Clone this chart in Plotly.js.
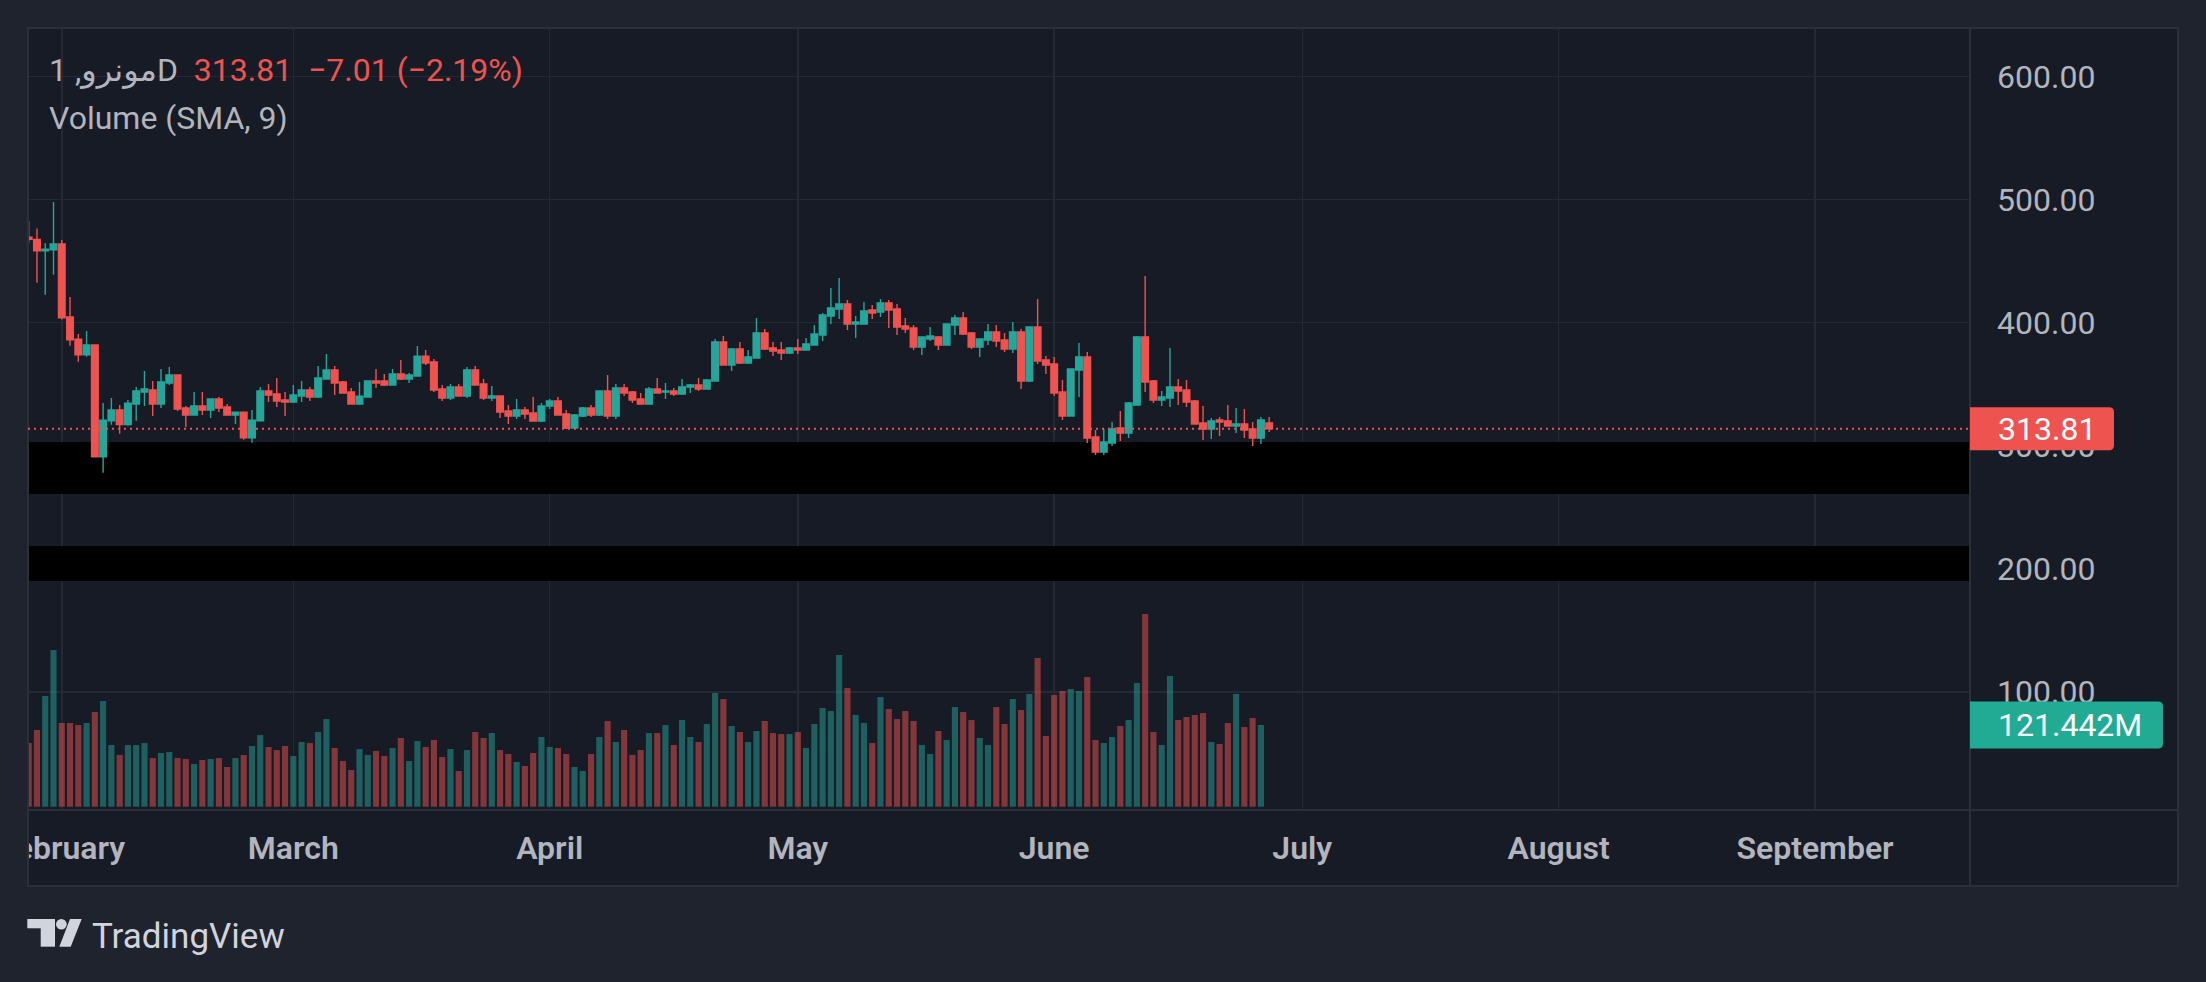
<!DOCTYPE html>
<html>
<head>
<meta charset="utf-8">
<script src="https://cdn.plot.ly/plotly-3.0.1.min.js"></script>
<style>
html,body{margin:0;padding:0;background:#1f232e;overflow:hidden;}
#chart{width:2206px;height:982px;}
</style>
</head>
<body>
<div id="chart"></div>
<script>
// ---------------- DATA ----------------
const dates = [
'2023-01-28','2023-01-29','2023-01-30','2023-01-31',
'2023-02-01','2023-02-02','2023-02-03','2023-02-04','2023-02-05','2023-02-06','2023-02-07','2023-02-08','2023-02-09','2023-02-10',
'2023-02-11','2023-02-12','2023-02-13','2023-02-14','2023-02-15','2023-02-16','2023-02-17','2023-02-18','2023-02-19','2023-02-20',
'2023-02-21','2023-02-22','2023-02-23','2023-02-24','2023-02-25','2023-02-26','2023-02-27','2023-02-28',
'2023-03-01','2023-03-02','2023-03-03','2023-03-04','2023-03-05','2023-03-06','2023-03-07','2023-03-08','2023-03-09','2023-03-10',
'2023-03-11','2023-03-12','2023-03-13','2023-03-14','2023-03-15','2023-03-16','2023-03-17','2023-03-18','2023-03-19','2023-03-20',
'2023-03-21','2023-03-22','2023-03-23','2023-03-24','2023-03-25','2023-03-26','2023-03-27','2023-03-28','2023-03-29','2023-03-30','2023-03-31',
'2023-04-01','2023-04-02','2023-04-03','2023-04-04','2023-04-05','2023-04-06','2023-04-07','2023-04-08','2023-04-09','2023-04-10',
'2023-04-11','2023-04-12','2023-04-13','2023-04-14','2023-04-15','2023-04-16','2023-04-17','2023-04-18','2023-04-19','2023-04-20',
'2023-04-21','2023-04-22','2023-04-23','2023-04-24','2023-04-25','2023-04-26','2023-04-27','2023-04-28','2023-04-29','2023-04-30',
'2023-05-01','2023-05-02','2023-05-03','2023-05-04','2023-05-05','2023-05-06','2023-05-07','2023-05-08','2023-05-09','2023-05-10',
'2023-05-11','2023-05-12','2023-05-13','2023-05-14','2023-05-15','2023-05-16','2023-05-17','2023-05-18','2023-05-19','2023-05-20',
'2023-05-21','2023-05-22','2023-05-23','2023-05-24','2023-05-25','2023-05-26','2023-05-27','2023-05-28','2023-05-29','2023-05-30','2023-05-31',
'2023-06-01','2023-06-02','2023-06-03','2023-06-04','2023-06-05','2023-06-06','2023-06-07','2023-06-08','2023-06-09','2023-06-10',
'2023-06-11','2023-06-12','2023-06-13','2023-06-14','2023-06-15','2023-06-16','2023-06-17','2023-06-18','2023-06-19','2023-06-20',
'2023-06-21','2023-06-22','2023-06-23','2023-06-24','2023-06-25','2023-06-26','2023-06-27'
];

const open = [
469.3,467.6,458.4,459.2,463.8,404.5,386.6,373.9,381.8,291.0,
320.3,329.0,317.1,333.8,343.6,345.2,333.8,350.9,357.4,330.6,
324.9,332.2,329.0,337.9,331.4,324.9,327.3,306.5,320.3,344.4,
342.0,337.1,335.5,340.3,345.2,339.5,354.1,361.5,351.7,343.6,
333.8,339.5,352.5,352.5,349.3,358.2,354.1,356.6,372.8,368.0,
346.0,338.7,347.7,340.4,361.5,350.1,338.8,340.4,328.2,324.1,
329.0,326.6,320.1,332.3,336.3,325.7,314.4,324.1,330.6,325.0,
344.4,324.1,346.9,343.6,337.9,333.9,346.1,343.6,344.4,342.0,
347.7,349.3,346.1,352.6,384.2,365.6,378.6,367.2,371.2,391.6,
379.4,377.7,375.3,379.4,377.7,381.8,389.9,405.4,411.1,415.1,
398.9,398.9,410.2,408.6,415.9,411.1,397.2,395.6,380.2,386.7,
388.3,381.8,398.1,403.7,391.6,380.2,385.9,392.4,385.9,378.6,
392.4,352.6,396.4,369.6,366.4,343.6,324.1,361.5,372.1,307.1,
294.9,302.2,314.4,310.3,333.1,388.3,352.6,337.1,338.8,347.7,
345.2,336.3,318.4,313.6,320.9,320.1,316.0,317.6,313.6,306.2,
318.4
];
const high = [
482.5,476.5,464.4,497.9,467.1,420.8,390.7,393.1,382.2,334.6,
338.7,333.0,337.1,347.7,360.6,352.5,362.3,363.9,357.9,332.2,
343.6,343.6,338.3,339.5,333.8,327.6,327.6,329.0,347.7,350.1,
355.0,343.6,349.3,352.5,347.7,364.7,374.5,364.7,352.5,346.8,
351.7,352.8,362.3,358.2,362.3,369.6,359.0,381.0,377.7,370.4,
349.3,350.1,350.1,363.9,364.7,354.2,348.5,340.7,333.1,337.9,
331.4,339.6,334.7,338.0,339.6,329.0,325.7,331.4,333.1,344.7,
357.4,350.1,350.1,344.4,342.8,347.7,355.0,351.0,346.9,354.2,
350.1,355.0,354.2,386.7,389.1,379.4,384.2,377.7,403.7,394.8,
384.2,384.2,380.2,386.7,387.5,398.0,407.8,428.1,436.2,418.4,
405.4,416.7,414.3,419.2,418.4,415.1,403.7,398.1,388.6,396.4,
389.1,399.2,406.2,408.6,392.4,387.0,398.9,398.1,391.6,400.5,
394.8,396.7,419.2,372.9,372.1,353.4,362.6,383.4,376.1,312.7,
313.6,319.2,328.2,335.5,389.1,437.9,353.4,344.4,379.4,354.2,
353.4,337.1,332.3,322.5,323.3,333.1,330.6,329.8,319.2,323.3,
323.3
];
const low = [
464.4,432.4,422.7,438.9,402.6,381.2,368.2,372.3,290.8,278.0,
317.1,309.8,316.3,320.3,332.2,324.1,330.6,349.3,328.2,315.2,
324.6,324.9,322.5,327.3,324.6,317.6,304.9,302.4,320.0,335.5,
331.4,324.1,334.6,335.5,336.3,338.7,353.8,341.2,342.5,333.5,
333.0,339.2,346.8,348.5,349.0,353.3,350.9,356.3,365.5,343.6,
336.3,337.1,340.1,338.8,349.0,337.1,336.3,322.5,317.6,321.7,
321.7,319.8,319.2,329.8,324.7,313.6,314.1,323.3,323.3,324.1,
321.7,321.7,340.4,334.7,333.6,333.6,342.5,337.9,340.4,341.2,
342.8,344.4,345.8,352.3,365.3,360.7,366.4,366.4,370.9,377.7,
372.9,369.6,374.5,374.5,377.4,381.5,385.0,398.9,402.9,394.0,
387.5,398.6,402.9,404.6,395.6,389.9,391.6,377.7,373.7,385.1,
377.7,381.5,389.9,389.9,378.6,372.1,381.8,380.2,376.1,375.3,
346.1,351.7,366.4,358.2,340.4,320.9,323.8,339.6,302.2,292.4,
292.4,299.7,303.8,306.2,332.8,343.6,334.7,332.3,331.4,333.1,
331.4,317.3,304.6,305.4,307.9,315.7,310.3,306.2,299.7,301.4,
311.1
];
const close = [
467.6,458.4,459.7,463.8,404.0,386.1,373.9,381.8,291.0,320.8,
329.0,317.1,334.6,344.4,346.0,333.8,351.7,357.4,329.8,324.9,
332.2,329.0,337.9,330.6,324.9,327.3,306.5,320.8,344.4,341.2,
336.3,335.5,341.2,345.2,339.5,355.0,361.5,350.9,342.8,333.8,
340.3,352.5,350.9,349.3,358.2,354.1,357.4,372.8,367.2,345.2,
338.7,347.7,340.4,361.5,349.3,338.8,340.4,327.4,324.1,329.0,
325.7,320.1,332.3,336.3,325.0,314.4,325.0,330.6,325.0,344.4,
324.1,346.9,342.8,337.1,333.9,346.1,342.8,344.4,342.0,347.7,
349.3,346.1,353.4,384.2,365.6,378.6,367.2,372.0,391.6,378.6,
376.9,375.3,379.4,377.7,382.6,390.7,406.2,411.9,415.1,398.9,
400.5,409.4,407.8,415.9,410.2,396.4,394.8,380.2,388.3,389.1,
381.8,398.9,403.7,390.7,380.2,386.7,392.4,385.1,378.6,392.4,
352.6,396.4,368.8,365.6,342.8,324.1,362.3,372.1,306.2,294.9,
303.0,313.6,310.3,334.7,388.3,351.7,337.1,339.6,347.7,344.4,
335.5,317.6,313.6,320.1,319.2,316.0,317.6,312.7,306.2,320.82,
313.81
];
// volume in millions
const volume = [
94.6,114.0,164.5,232.9,124.4,124.4,121.4,124.4,140.7,157.1,
91.7,76.8,91.7,91.7,94.6,72.3,79.8,81.3,72.3,70.9,
63.4,69.4,70.9,72.3,59.0,72.3,76.8,90.2,106.5,88.7,
84.2,90.2,75.3,96.1,94.6,111.0,130.3,87.2,67.9,54.5,
85.7,76.8,82.8,75.3,87.2,102.1,67.9,97.6,88.7,99.1,
73.8,85.7,53.0,84.2,111.0,102.1,109.5,84.2,78.3,66.4,
60.5,79.8,103.6,88.7,87.2,78.3,59.0,53.0,78.3,103.6,
127.4,96.1,114.0,76.8,84.2,109.5,109.5,121.4,91.7,128.8,
103.6,96.1,122.9,169.0,160.1,119.9,111.0,96.1,112.5,127.4,
109.5,108.0,108.0,111.0,87.2,122.9,146.7,142.2,225.5,176.4,
136.3,124.4,94.6,163.0,145.2,130.3,142.2,127.4,91.7,78.3,
112.5,99.1,148.2,140.7,128.8,102.1,91.7,148.2,122.9,160.1,
143.7,167.5,221.0,105.1,166.0,172.0,174.9,172.0,192.8,99.1,
94.6,103.6,119.9,128.8,183.8,286.4,111.0,91.7,194.3,128.8,
133.3,136.3,139.2,96.1,93.2,124.4,167.5,118.4,131.8,121.442
];

const priceTicks = [100, 200, 300, 400, 500, 600];
const priceTickLabels = ['100.00','200.00','300.00','400.00','500.00','600.00'];
const monthTicks = ['2023-02-01','2023-03-01','2023-04-01','2023-05-01','2023-06-01','2023-07-01','2023-08-01','2023-09-01'];
const monthLabels = ['February','March','April','May','June','July','August','September'];
const symbolName = 'مونرو, 1D';
const indicatorName = 'Volume (SMA, 9)';
const brandName = 'TradingView';

// ---------------- STYLE / GEOMETRY ----------------
const OUTER = '#1f232e', INNER = '#171b26', GRID = '#252935', FRAME = '#2b2f3a';
const TXT = '#b2b5be', UP = '#26a69a', DOWN = '#ef5350';
const UPV = 'rgba(38,166,154,0.5)', DOWNV = 'rgba(239,83,80,0.5)';
const W = 2206, H = 982, L = 28, R = 1970, T = 28, B = 810;
const px = x => (x - L) / (R - L);
const py = y => (B - y) / (B - T);
const priceRange = [4.06, 639.32];
const volRange = [-4.9, 1157.6];
const priceAtPx = y => priceRange[1] - (y - T) / (B - T) * (priceRange[1] - priceRange[0]);
const dayMs = 864e5, pxPerDay = 8.27;
const x0ms = Date.UTC(2023, 0, 27, 22, 0, 0);
const x1ms = x0ms + (R - L) / pxPerDay * dayMs;
const iso = ms => new Date(ms).toISOString().slice(0, 19).replace('T', ' ');
const xRange = [iso(x0ms), iso(x1ms)];

const lastClose = close[close.length - 1];
const prevClose = close[close.length - 2];
const chg = lastClose - prevClose;
const pct = chg / prevClose * 100;
const sgn = v => (v < 0 ? '\u2212' : '+') + Math.abs(v).toFixed(2);
const lastVol = volume[volume.length - 1];

const volColors = volume.map((v, i) => close[i] >= open[i] ? UPV : DOWNV);

const FONT = 'Roboto, "Noto Sans", "DejaVu Sans", sans-serif';
const NB = '\u00a0';

// ---------------- TRACES ----------------
const volTrace = {
  type: 'bar', x: dates.slice(0, volume.length), y: volume,
  marker: {color: volColors, line: {width: 0}},
  width: 0.74 * dayMs, xaxis: 'x', yaxis: 'y2', hoverinfo: 'skip'
};
const candleTrace = {
  type: 'candlestick', x: dates, open: open, high: high, low: low, close: close,
  increasing: {line: {color: UP, width: 1.4}, fillcolor: UP},
  decreasing: {line: {color: DOWN, width: 1.4}, fillcolor: DOWN},
  whiskerwidth: 0, xaxis: 'x', yaxis: 'y', hoverinfo: 'skip'
};

function roundRight(w, h, r) {
  const a = -h / 2, b = h / 2;
  return `M0,${a} H${w - r} Q${w},${a} ${w},${a + r} V${b - r} Q${w},${b} ${w - r},${b} H0 Z`;
}

const shapes = [
  // inner panel background
  {type: 'rect', xref: 'paper', yref: 'paper', x0: px(28), x1: px(2178), y0: py(886), y1: py(28),
   fillcolor: INNER, line: {width: 0}, layer: 'below'},
  // black bands
  {type: 'rect', xref: 'x', yref: 'y', x0: xRange[0], x1: xRange[1], y0: priceAtPx(494), y1: priceAtPx(442),
   fillcolor: '#000000', line: {width: 0}, layer: 'between'},
  {type: 'rect', xref: 'x', yref: 'y', x0: xRange[0], x1: xRange[1], y0: priceAtPx(581), y1: priceAtPx(546),
   fillcolor: '#000000', line: {width: 0}, layer: 'between'},
  // mask left part of first month label
  {type: 'rect', xref: 'paper', yref: 'paper', x0: px(-10), x1: px(28), y0: py(886), y1: py(811),
   fillcolor: OUTER, line: {width: 0}, layer: 'above'},
  // frame + separators
  {type: 'rect', xref: 'paper', yref: 'paper', x0: px(28), x1: px(2178), y0: py(886), y1: py(28),
   line: {color: FRAME, width: 2}, fillcolor: 'rgba(0,0,0,0)', layer: 'above'},
  {type: 'line', xref: 'paper', yref: 'paper', x0: px(1970), x1: px(1970), y0: py(28), y1: py(886),
   line: {color: FRAME, width: 2}, layer: 'above'},
  {type: 'line', xref: 'paper', yref: 'paper', x0: px(28), x1: px(2178), y0: py(810), y1: py(810),
   line: {color: FRAME, width: 2}, layer: 'above'},
  // last price dotted line
  {type: 'line', xref: 'paper', yref: 'y', x0: 0, x1: 1, y0: lastClose, y1: lastClose,
   line: {color: DOWN, width: 2, dash: '2px,4px'}, layer: 'above'},
  // price label box
  {type: 'path', xref: 'paper', yref: 'y', xsizemode: 'pixel', ysizemode: 'pixel', xanchor: 1, yanchor: lastClose,
   path: roundRight(144, 43, 5), fillcolor: DOWN, line: {width: 0}, layer: 'above'},
  // volume label box
  {type: 'path', xref: 'paper', yref: 'y2', xsizemode: 'pixel', ysizemode: 'pixel', xanchor: 1, yanchor: lastVol,
   path: roundRight(193, 47, 5), fillcolor: '#22ab94', line: {width: 0}, layer: 'above'},
  // TradingView logo mark
  {type: 'rect', xref: 'paper', yref: 'paper', x0: px(27.3), x1: px(55), y0: py(928.3), y1: py(919),
   fillcolor: '#d1d4dc', line: {width: 0}, layer: 'above'},
  {type: 'rect', xref: 'paper', yref: 'paper', x0: px(40.7), x1: px(55), y0: py(946.7), y1: py(919),
   fillcolor: '#d1d4dc', line: {width: 0}, layer: 'above'},
  {type: 'circle', xref: 'paper', yref: 'paper', x0: px(56), x1: px(66.7), y0: py(929.5), y1: py(919),
   fillcolor: '#d1d4dc', line: {width: 0}, layer: 'above'},
  {type: 'path', xref: 'paper', yref: 'paper',
   path: `M${px(59.3)},${py(946.7)} L${px(70.7)},${py(946.7)} L${px(81.7)},${py(919)} L${px(70)},${py(919)} Z`,
   fillcolor: '#d1d4dc', line: {width: 0}, layer: 'above'}
];

const headerText =
  `<span style="color:${TXT}">${symbolName}</span>${NB}${NB}` +
  `<span style="color:${DOWN}">${lastClose.toFixed(2)}${NB}${NB}${sgn(chg)}${NB}(${sgn(pct)}%)</span>`;

const annotations = [
  {xref: 'paper', yref: 'paper', x: px(47), y: py(70), xanchor: 'left', yanchor: 'middle', showarrow: false,
   text: headerText, font: {family: FONT, size: 32, color: TXT}},
  {xref: 'paper', yref: 'paper', x: px(47), y: py(118), xanchor: 'left', yanchor: 'middle', showarrow: false,
   text: indicatorName, font: {family: FONT, size: 32, color: TXT}},
  {xref: 'paper', yref: 'y', x: px(1996), y: lastClose, xanchor: 'left', yanchor: 'middle', showarrow: false,
   text: lastClose.toFixed(2), font: {family: FONT, size: 32, color: '#ffffff'}},
  {xref: 'paper', yref: 'y2', x: px(1996), y: lastVol, xanchor: 'left', yanchor: 'middle', showarrow: false,
   text: lastVol.toFixed(3) + 'M', font: {family: FONT, size: 32, color: '#ffffff'}},
  {xref: 'paper', yref: 'paper', x: px(90), y: py(936), xanchor: 'left', yanchor: 'middle', showarrow: false,
   text: brandName, font: {family: FONT, size: 35, color: '#d1d4dc'}}
];

const layout = {
  width: W, height: H, autosize: false,
  margin: {l: L, r: W - R, t: T, b: H - B, pad: 0},
  paper_bgcolor: OUTER, plot_bgcolor: INNER,
  showlegend: false, hovermode: false, dragmode: false,
  boxgap: 0.1, boxgroupgap: 0.11,
  font: {family: FONT, color: TXT},
  xaxis: {
    type: 'date', range: xRange, tickvals: monthTicks, ticktext: monthLabels,
    showgrid: true, gridcolor: GRID, gridwidth: 1.5, zeroline: false, showline: false,
    ticks: '', ticklabelstandoff: 16, ticklabeloverflow: 'allow',
    tickfont: {family: FONT, size: 32, color: TXT, weight: 600},
    rangeslider: {visible: false}, fixedrange: true
  },
  yaxis: {
    range: priceRange, side: 'right', tickvals: priceTicks, ticktext: priceTickLabels,
    showgrid: true, gridcolor: GRID, gridwidth: 1.5, zeroline: false, showline: false,
    ticks: '', ticklabelstandoff: 26,
    tickfont: {family: FONT, size: 32, color: TXT}, fixedrange: true
  },
  yaxis2: {overlaying: 'y', range: volRange, visible: false, fixedrange: true},
  shapes: shapes,
  annotations: annotations
};

Plotly.newPlot('chart', [volTrace, candleTrace], layout, {displayModeBar: false, staticPlot: true});
</script>
</body>
</html>
